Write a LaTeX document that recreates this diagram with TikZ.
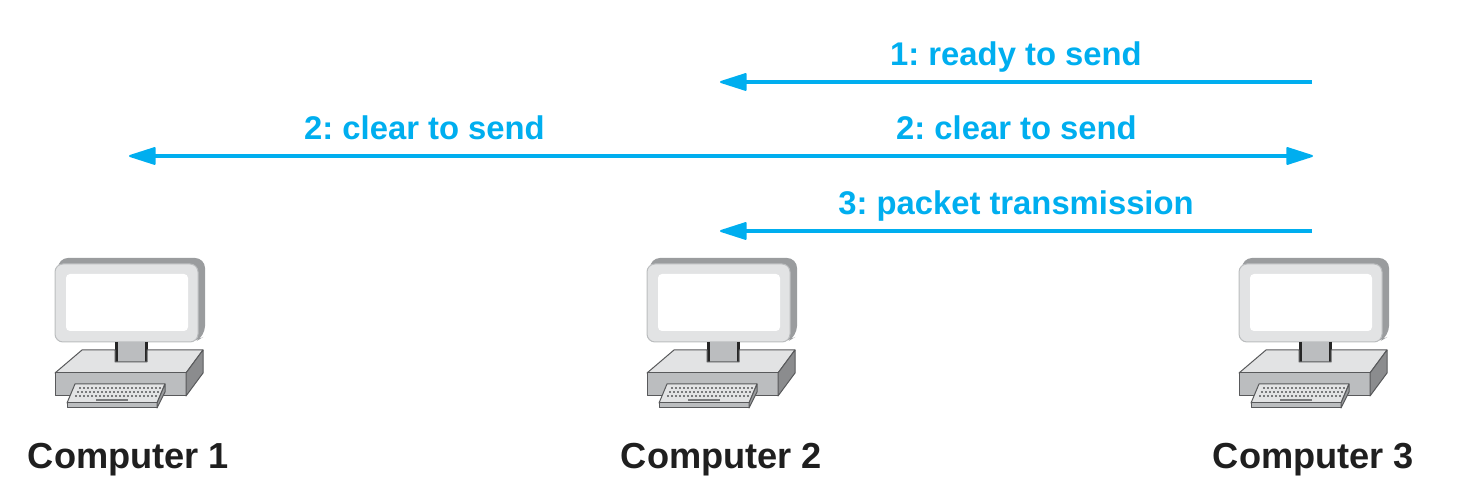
\documentclass[tikz,border=0pt]{standalone}
\usepackage{fontspec}
\setmainfont{Liberation Sans}
\usetikzlibrary{arrows.meta}
\definecolor{msgblue}{HTML}{00AEEF}
\definecolor{casegray}{HTML}{E2E3E4}
\definecolor{backgray}{HTML}{9A9C9E}
\definecolor{midgray}{HTML}{BBBDBF}
\definecolor{edgegray}{HTML}{58595B}
\tikzset{msg/.style={msgblue,line width=2pt,-{Triangle[round,length=14.5pt,width=9pt,line width=1pt]}}}
\tikzset{msgtext/.style={midway,above=4pt,inner sep=0pt,text depth=3.4pt,text=msgblue,font=\fontsize{16.4}{18}\selectfont\bfseries\frenchspacing}}
\tikzset{complabel/.style={inner sep=0pt,text=black!88,font=\fontsize{18.1}{20}\selectfont\bfseries}}
\tikzset{computer/.pic={
	% monitor
	\fill[backgray,rounded corners=5pt] (58,258) -- (205,258) -- (205,336) -- (195,342) -- (58,342) -- cycle;
	\draw[midgray,fill=casegray,line width=.5pt,rounded corners=4pt] (55,264) rectangle (198,342);
	\fill[white,rounded corners=2pt] (66,274) rectangle (188,331);
	% stand
	\fill[midgray] (115,342) rectangle (147,362);
	\draw[black!85,line width=1.5pt] (116,342) -- (116,362) (146,342) -- (146,362);
	% base
	\draw[edgegray,fill=casegray,line width=.5pt,line join=round] (82,350) -- (115,350) -- (115,362) -- (147,362) -- (147,350) -- (203,350) -- (186,373) -- (55,373) -- cycle;
	\draw[edgegray,fill=midgray,line width=.5pt,line join=round] (55,373) -- (186,373) -- (186,396) -- (55,396) -- cycle;
	\draw[edgegray,fill=backgray!90!black,line width=.5pt,line join=round] (186,373) -- (203,350) -- (203,373) -- (186,396) -- cycle;
	% keyboard
	\draw[edgegray,fill=casegray,line width=.5pt,line join=round] (75,384) -- (165,384) -- (157,403) -- (67,403) -- cycle;
	\draw[edgegray,fill=midgray,line width=.5pt,line join=round] (67,403) -- (157,403) -- (157,408) -- (67,408) -- cycle;
	\draw[edgegray,fill=backgray,line width=.5pt,line join=round] (165,384) -- (165,392) -- (157,408) -- (157,403) -- cycle;
	\foreach \j in {0,...,2} {
		\draw[edgegray!80,line width=1pt,dash pattern=on 1pt off 1pt] ({79-2*\j},{388+4*\j}) -- ({161-2*\j},{388+4*\j});
	};
	\draw[edgegray!80,line width=.7pt] (96,400) -- (128,400);
}}

\begin{document}
\begin{tikzpicture}[x=0.5pt,y=-0.5pt]
	\useasboundingbox (0,0) rectangle (1479,501);
	
	\pic (pc1) at (0,0) {computer};
	\pic (pc2) at (592,0) {computer};
	\pic (pc3) at (1184,0) {computer};
	
	\node[complabel] (comp1) at (128.5,460) {Computer 1};
	\node[complabel] (comp2) at (721.5,460) {Computer 2};
	\node[complabel] (comp3) at (1313.5,460) {Computer 3};
	
	\coordinate (rts3) at (1312,82);
	\coordinate (rts2) at (720,82);
	\coordinate (cts1) at (129,156);
	\coordinate (cts2) at (720,156);
	\coordinate (cts3) at (1313,156);
	\coordinate (pkt3) at (1312,231);
	\coordinate (pkt2) at (720,231);
	
	\draw[msg] (rts3) -- node[msgtext] (rtstext) {1: ready to send} (rts2);
	\draw[msg] (cts2) -- node[msgtext] (ctsleft) {2: clear to send} (cts1);
	\draw[msg] (cts2) -- node[msgtext] (ctsright) {2: clear to send} (cts3);
	\draw[msg] (pkt3) -- node[msgtext] (pkttext) {3: packet transmission} (pkt2);
	
\end{tikzpicture}
\end{document}
